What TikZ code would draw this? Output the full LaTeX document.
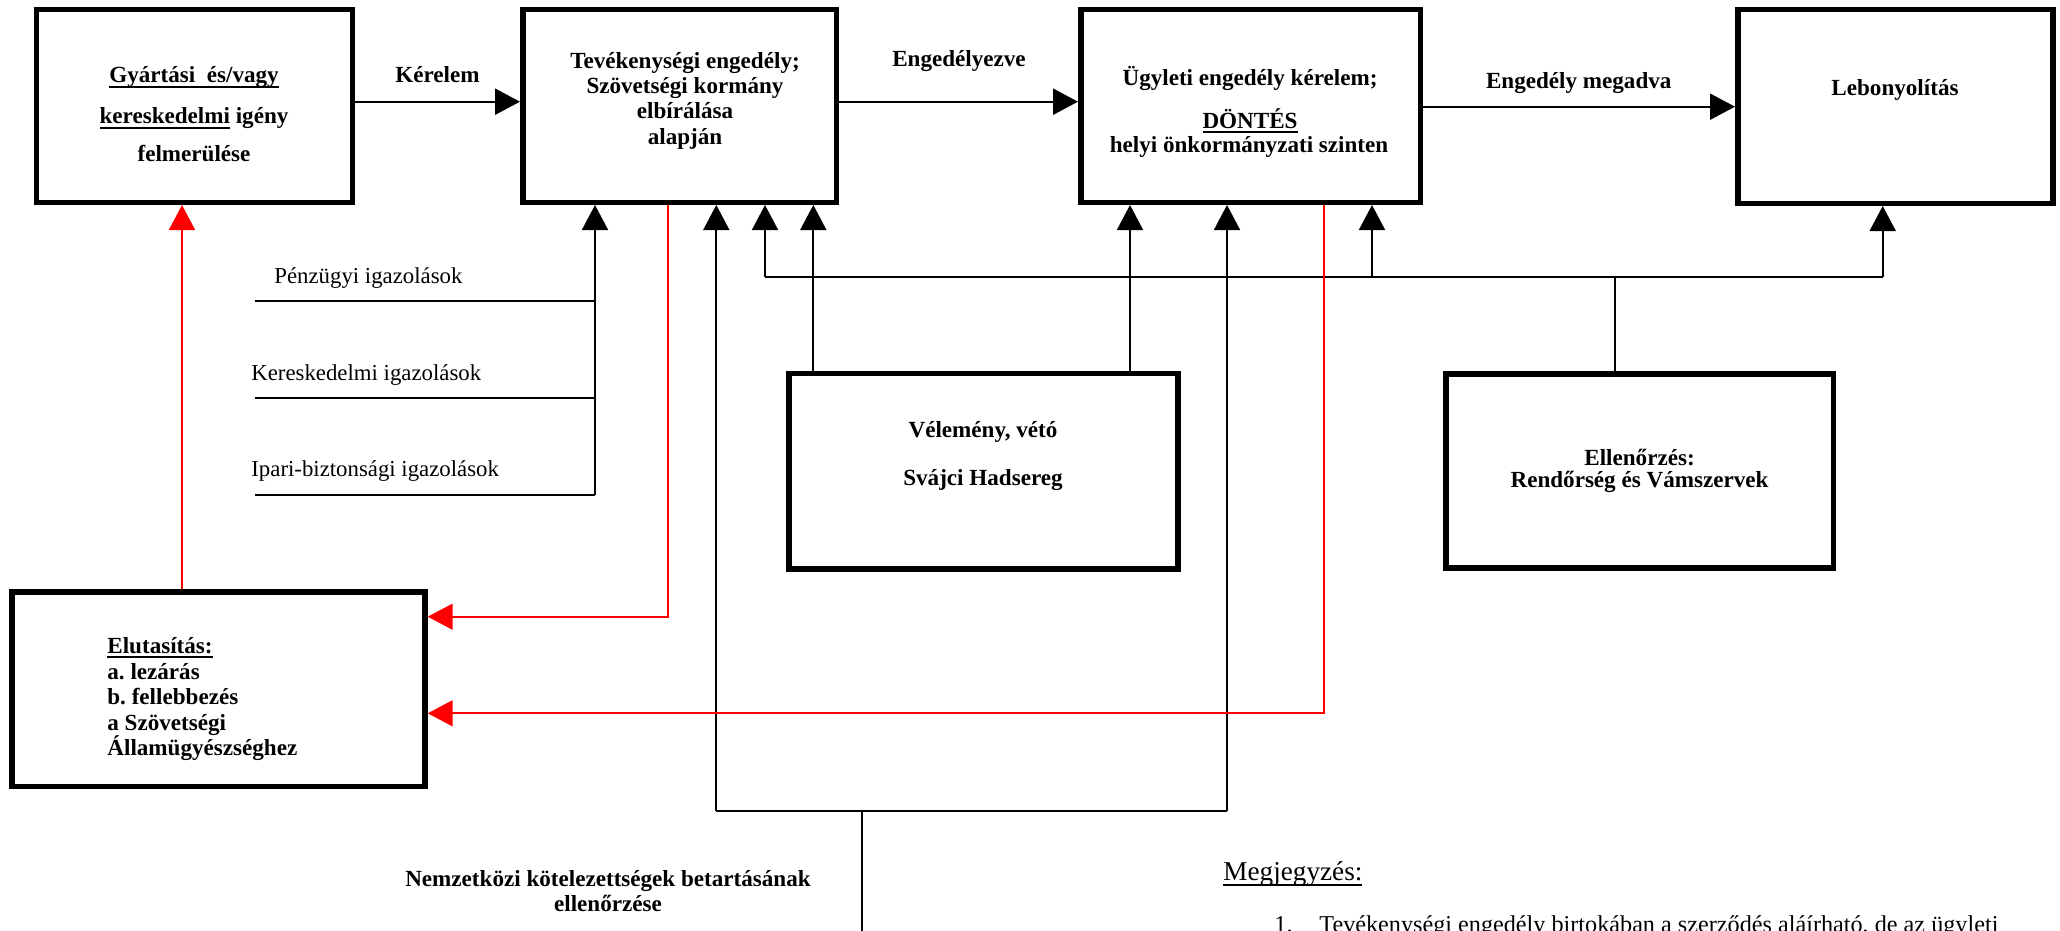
\documentclass[tikz,border=0pt]{standalone}
\usepackage{fontspec}
\setmainfont{Liberation Serif}
\usetikzlibrary{arrows.meta}
\frenchspacing
% underline that runs through the descenders, as a word processor draws it
\newsavebox\ulbox
\newcommand\ulx[1]{\sbox\ulbox{#1}\rlap{\rule[-2.6pt]{\wd\ulbox}{1pt}}\usebox\ulbox}

\begin{document}
\begin{tikzpicture}[x=0.5pt,y=-0.5pt,
  box/.style={draw, line width=2.75pt, inner sep=0pt},
  ln/.style={line width=0.85pt},
  arr/.style={line width=0.85pt, -{Triangle[length=12.5pt,width=13pt]}},
  flow/.style={arr, line width=1.1pt},
  rej/.style={arr, red, line width=0.85pt},
  bt/.style={font=\fontsize{11.55}{13}\selectfont\bfseries, inner sep=0pt, anchor=base},
  btl/.style={bt, anchor=base west},
  rt/.style={font=\fontsize{11.4}{13}\selectfont, inner sep=0pt, anchor=base west},
  nt/.style={font=\fontsize{12.1}{14}\selectfont, inner sep=0pt, anchor=base west},
]
\useasboundingbox (0,0) rectangle (2060,931);
\clip (0,0) rectangle (2060,931);
\fill[white] (0,0) rectangle (2060,931);

% ---- boxes
\node[box, minimum width=158pt,    minimum height=96.25pt] (B1) at (194.25,106) {};
\node[box, minimum width=156.75pt, minimum height=96.25pt] (B2) at (679.5,106) {};
\node[box, minimum width=169.75pt, minimum height=96.25pt] (B3) at (1250.5,106) {};
\node[box, minimum width=157.5pt,  minimum height=96.75pt] (B4) at (1895.25,106.5) {};
\node[box, minimum width=194.55pt, minimum height=97.75pt] (V)  at (983.3,471.2) {};
\node[box, minimum width=193.75pt, minimum height=97.1pt]  (E)  at (1639.5,470.85) {};
\node[box, minimum width=206.6pt,  minimum height=97.25pt] (R)  at (218.35,689.3) {};

% ---- box texts
\node[bt] (b1a) at (194,83)    {\ulx{Gyártási\ \ és/vagy}};
\node[bt] (b1b) at (194,124)   {\ulx{kereskedelmi} igény};
\node[bt] (b1c) at (194,161.7) {felmerülése};

\node[bt] (b2a) at (685,68.5) {Tevékenységi engedély;};
\node[bt] (b2b) at (685,94)   {Szövetségi kormány};
\node[bt] (b2c) at (685,119)  {elbírálása};
\node[bt] (b2d) at (685,144)  {alapján};

\node[bt] (b3a) at (1250,86)    {Ügyleti engedély kérelem;};
\node[bt] (b3b) at (1250,128.3) {\ulx{DÖNTÉS}};
\node[bt] (b3c) at (1249,152.7) {helyi önkormányzati szinten};

\node[bt] (b4a) at (1895,96) {Lebonyolítás};

\node[bt] (va) at (983,437.5) {Vélemény, vétó};
\node[bt] (vb) at (983,485)   {Svájci Hadsereg};

\node[bt] (ea) at (1639.5,465)   {Ellenőrzés:};
\node[bt] (eb) at (1639.5,487)   {Rendőrség és Vámszervek};

\node[btl] (ra) at (107,653)   {\ulx{Elutasítás:}};
\node[btl] (rb) at (107,679)   {a. lezárás};
\node[btl] (rc) at (107,704.5) {b. fellebbezés};
\node[btl] (rd) at (107,730)   {a Szövetségi};
\node[btl] (re) at (107,755.5) {Államügyészséghez};

% ---- main flow
\coordinate (k1) at (0,101.7);
\coordinate (k3) at (0,106.7);
\draw[flow] (B1.east |- k1) -- (B2.west |- k1);
\draw[flow] (B2.east |- k1) -- (B3.west |- k1);
\draw[flow] (B3.east |- k3) -- (B4.west |- k3);
\node[bt] (lk) at (437.5,82.7)  {Kérelem};
\node[bt] (le) at (959,66.7)    {Engedélyezve};
\node[bt] (lm) at (1578.7,88.3) {Engedély megadva};

% ---- certificates feeding the activity licence
\coordinate (L1) at (254.5,301);
\coordinate (L2) at (254.5,398.3);
\coordinate (L3) at (254.5,495);
\coordinate (xa) at (595,495);
\draw[ln] (L1) -- (L1 -| xa);
\draw[ln] (L2) -- (L2 -| xa);
\draw[ln] (L3) -- (xa);
\draw[arr] (xa) -- (xa |- B2.south);
\node[rt] (c1) at (274,283)   {Pénzügyi igazolások};
\node[rt] (c2) at (251,380)   {Kereskedelmi igazolások};
\node[rt] (c3) at (251,476.5) {Ipari-biztonsági igazolások};

% ---- control bus
\coordinate (busL) at (765,276.7);
\coordinate (bus3) at (1372,276.7);
\coordinate (busE) at (1615,276.7);
\coordinate (busR) at (1882.7,276.7);
\draw[ln] (busL) -- (busR);
\draw[arr] (busL) -- (busL |- B2.south);
\draw[arr] (bus3) -- (bus3 |- B3.south);
\draw[arr] (busR) -- (busR |- B4.south);
\draw[ln] (busE |- E.north) -- (busE);

% ---- army opinion
\coordinate (vx1) at (813.3,471);
\coordinate (vx2) at (1130,471);
\draw[arr] (vx1 |- V.north) -- (vx1 |- B2.south);
\draw[arr] (vx2 |- V.north) -- (vx2 |- B3.south);

% ---- international obligations
\coordinate (ba) at (716.3,810.7);
\coordinate (bb) at (1227,810.7);
\coordinate (bc) at (862,810.7);
\coordinate (bend) at (862,940);
\draw[ln] (ba) -- (bb);
\draw[arr] (ba) -- (ba |- B2.south);
\draw[arr] (bb) -- (bb |- B3.south);
\draw[ln] (bc) -- (bend);
\node[bt] (na) at (608,886)   {Nemzetközi kötelezettségek betartásának};
\node[bt] (nb) at (608,911.7) {ellenőrzése};

% ---- rejection paths
\coordinate (r1) at (668,616.7);
\coordinate (r2) at (1323.7,713.3);
\coordinate (r3) at (182,0);
\draw[rej] (r1 |- B2.south) -- (r1) -- (r1 -| R.east);
\draw[rej] (r2 |- B3.south) -- (r2) -- (r2 -| R.east);
\draw[rej] (r3 |- R.north) -- (r3 |- B1.south);

% ---- note
\node[nt, font=\fontsize{13.6}{15}\selectfont] (m0) at (1223,880.7) {\ulx{Megjegyzés:}};
\node[nt] (m1) at (1274,932.5) {1.};
\node[nt] (m2) at (1319,932.5) {Tevékenységi engedély birtokában a szerződés aláírható, de az ügyleti};
\end{tikzpicture}
\end{document}
